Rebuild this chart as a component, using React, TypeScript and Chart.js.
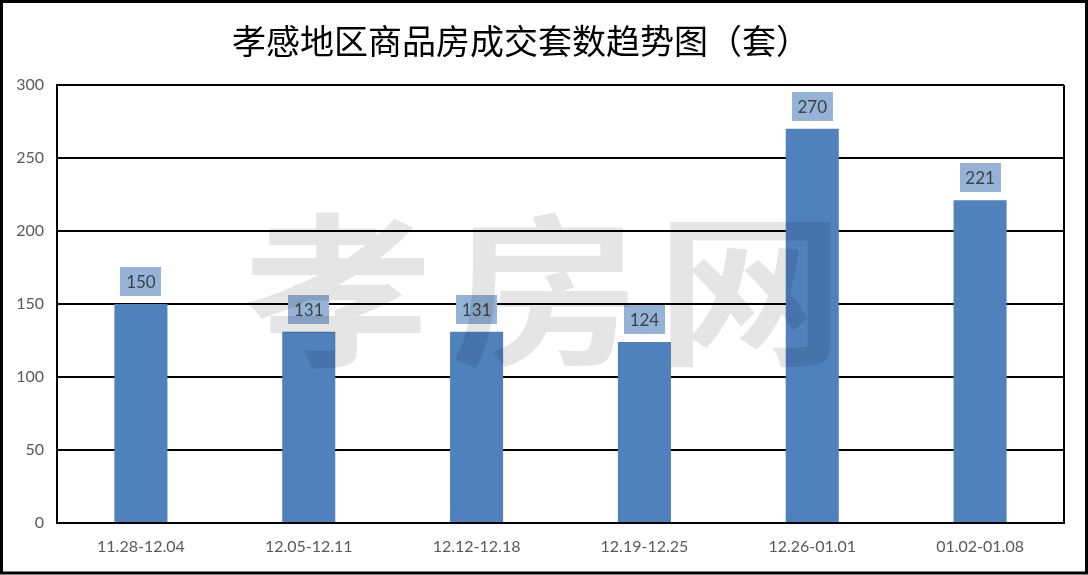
import React, { useEffect, useRef } from "react";
import { Chart, registerables } from "chart.js";

Chart.register(...registerables);

const TITLE = "孝感地区商品房成交套数趋势图（套）";
const WATERMARK = ["孝", "房", "网"];
const categories = ["11.28-12.04", "12.05-12.11", "12.12-12.18", "12.19-12.25", "12.26-01.01", "01.02-01.08"];
const values = [150, 131, 131, 124, 270, 221];
const yMin = 0;
const yMax = 300;
const yStep = 50;

const framePlugin = {
  id: "frame",
  beforeDatasetsDraw(chart: any) {
    const { ctx, chartArea } = chart;
    ctx.save();
    ctx.strokeStyle = "#000";
    ctx.lineWidth = 2;
    ctx.beginPath();
    ctx.moveTo(chartArea.right, chartArea.top);
    ctx.lineTo(chartArea.right, chartArea.bottom);
    ctx.stroke();
    ctx.restore();
  },
  afterDatasetsDraw(chart: any) {
    const { ctx } = chart;
    const meta = chart.getDatasetMeta(0);
    ctx.save();
    ctx.font = "17px Lato";
    ctx.textAlign = "center";
    ctx.textBaseline = "middle";
    meta.data.forEach((bar: any, i: number) => {
      const w = 41;
      const h = 29;
      const x = bar.x;
      const bottom = bar.y - 8;
      ctx.fillStyle = "#95B3D7";
      ctx.fillRect(Math.round(x - w / 2), Math.round(bottom - h), w, h);
      ctx.fillStyle = "#404040";
      ctx.fillText(String(values[i]), x, bottom - h / 2 + 1);
    });
    ctx.restore();
  },
  afterDraw(chart: any) {
    const { ctx, width, height } = chart;
    ctx.save();
    // watermark
    ctx.fillStyle = "rgba(0,0,0,0.1)";
    ctx.font = "bold 164px 'Noto Sans CJK SC'";
    ctx.textAlign = "center";
    ctx.textBaseline = "middle";
    const centers = [338, 545, 750];
    WATERMARK.forEach((ch, i) => {
      ctx.save();
      ctx.translate(centers[i], 290);
      ctx.scale(1.15, 1);
      ctx.fillText(ch, 0, 0);
      ctx.restore();
    });
    // title
    ctx.fillStyle = "#000";
    ctx.font = "34px 'Noto Sans CJK SC'";
    ctx.textAlign = "left";
    ctx.textBaseline = "middle";
    ctx.fillText(TITLE, 232, 41);
    // outer border
    ctx.strokeStyle = "#000";
    ctx.lineWidth = 3;
    ctx.strokeRect(1.5, 1.5, width - 3, height - 3.5);
    ctx.restore();
  },
};

export default function App() {
  const ref = useRef<HTMLCanvasElement>(null);
  useEffect(() => {
    document.body.style.margin = "0";
    const chart = new Chart(ref.current!, {
      type: "bar",
      data: {
        labels: categories,
        datasets: [
          {
            data: values,
            backgroundColor: "#4F81BD",
            categoryPercentage: 1,
            barPercentage: 0.316,
          },
        ],
      },
      options: {
        animation: false,
        responsive: false,
        layout: { padding: { left: 0, top: 85, right: 24, bottom: 0 } },
        plugins: { legend: { display: false }, tooltip: { enabled: false }, title: { display: false } },
        scales: {
          x: {
            afterFit(scale: any) {
              scale.height = 52;
            },
            grid: { display: false, drawTicks: false },
            border: { display: true, color: "#000", width: 2 },
            ticks: { color: "#595959", font: { family: "Lato", size: 16 }, padding: 14, maxRotation: 0 },
          },
          y: {
            min: yMin,
            max: yMax,
            afterFit(scale: any) {
              scale.width = 57;
            },
            ticks: { stepSize: yStep, color: "#595959", font: { family: "Lato", size: 16 }, padding: 13 },
            grid: { color: "#000", lineWidth: 2, drawTicks: false },
            border: { display: true, color: "#000", width: 2 },
          },
        },
      },
      plugins: [framePlugin],
    });
    return () => chart.destroy();
  }, []);
  return <canvas ref={ref} width={1088} height={575} style={{ display: "block" }} />;
}
